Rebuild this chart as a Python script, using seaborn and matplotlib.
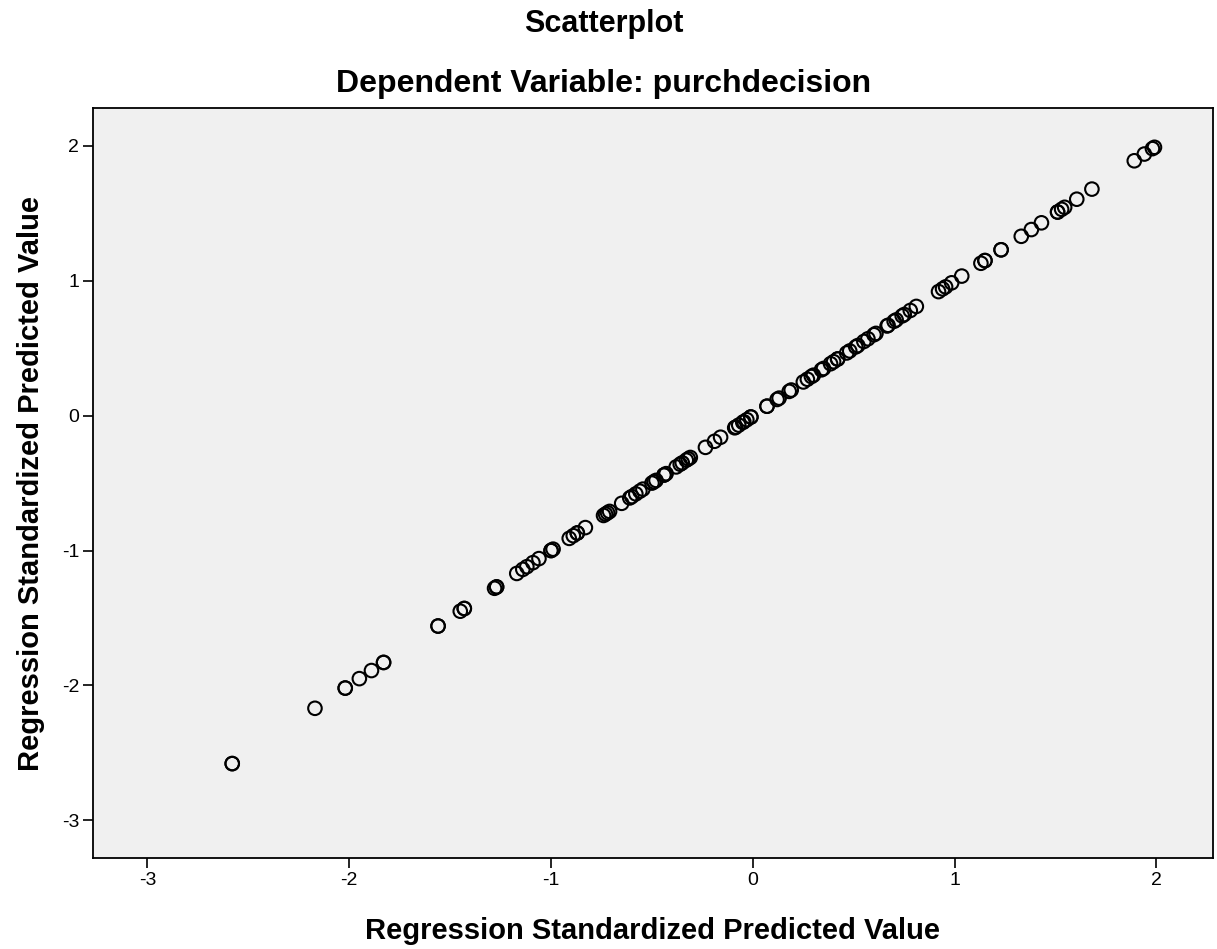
import matplotlib
matplotlib.use("Agg")
import matplotlib.pyplot as plt
import pandas as pd
import seaborn as sns

# standardized predicted values (plotted against themselves)
pred_std = [
    -2.58, -2.58,
    -2.17,
    -2.02, -2.02, -1.95, -1.89, -1.83, -1.83,
    -1.56, -1.56,
    -1.45, -1.43, -1.43,
    -1.28, -1.27, -1.27,
    -1.17, -1.14, -1.12, -1.09, -1.06,
    -1.00, -1.00, -0.99,
    -0.91, -0.89, -0.87, -0.87, -0.83,
    -0.74, -0.73, -0.72, -0.71,
    -0.65, -0.61, -0.60, -0.58, -0.56, -0.545,
    -0.50, -0.49, -0.48, -0.44, -0.44, -0.43,
    -0.38, -0.36, -0.35, -0.33, -0.32, -0.31,
    -0.235, -0.19, -0.16,
    -0.09, -0.085, -0.07, -0.05, -0.045, -0.03, -0.01, -0.01,
    0.07, 0.07, 0.12, 0.13, 0.18, 0.19,
    0.25, 0.27, 0.29, 0.30, 0.34, 0.35, 0.385, 0.40, 0.42, 0.42,
    0.465, 0.48, 0.51, 0.52, 0.55, 0.57, 0.60, 0.61,
    0.665, 0.67, 0.70, 0.71, 0.74, 0.75, 0.78, 0.81,
    0.92, 0.94, 0.955, 0.985, 1.035,
    1.13, 1.15, 1.15, 1.23, 1.23,
    1.33, 1.38, 1.43, 1.51, 1.51, 1.53, 1.545, 1.605, 1.68,
    1.89, 1.94, 1.98, 1.99,
]
ticks = [-3, -2, -1, 0, 1, 2]

df = pd.DataFrame({"x": pred_std, "y": pred_std})

sns.set_style("white")
plt.rcParams["font.family"] = ["Liberation Sans", "DejaVu Sans"]
plt.rcParams["axes.unicode_minus"] = False
plt.rcParams["text.color"] = "black"
plt.rcParams["axes.labelcolor"] = "black"

fig = plt.figure(figsize=(12.17, 9.49), dpi=100)
ax = fig.add_axes([0.0764, 0.0959, 0.9203, 0.7901])
ax.set_facecolor("#f0f0f0")

sns.scatterplot(data=df, x="x", y="y", ax=ax, marker="o", s=95,
                facecolor="none", edgecolor="black", linewidth=1.5)

ax.set_xlim(-3.27, 2.28)
ax.set_ylim(-3.28, 2.28)
ax.set_xticks(ticks)
ax.set_yticks(ticks)
ax.tick_params(axis="both", direction="out", length=7, width=1.2,
               labelsize=14, colors="black", pad=3, left=True, bottom=True)
for sp in ax.spines.values():
    sp.set_visible(True)
    sp.set_color("black")
    sp.set_linewidth(1.3)

ax.set_xlabel("Regression Standardized Predicted Value", fontsize=21,
              fontweight="bold", labelpad=20)
ax.set_ylabel("Regression Standardized Predicted Value", fontsize=21,
              fontweight="bold", labelpad=12)

fig.text(0.496, 0.975, "Scatterplot", ha="center", va="center",
         fontsize=22, fontweight="bold")
fig.text(0.496, 0.911, "Dependent Variable: purchdecision", ha="center",
         va="center", fontsize=23, fontweight="bold")

fig.savefig("out.png", dpi=100, facecolor="white")
